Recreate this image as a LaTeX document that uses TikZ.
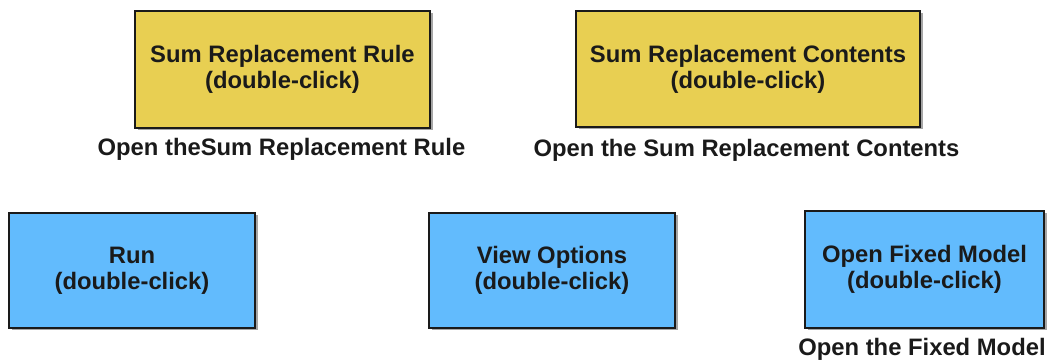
\documentclass[tikz,border=0pt]{standalone}
\usepackage{fontspec}
\setmainfont{Liberation Sans}
\usetikzlibrary{shadows}
\definecolor{boxyellow}{HTML}{E8CF52}
\definecolor{boxblue}{HTML}{62BBFD}
\definecolor{txtdark}{HTML}{1A1A1A}
\tikzset{
  blk/.style={draw=txtdark, line width=1.3pt, align=center, inner sep=0pt,
    font=\fontsize{23.8}{26}\selectfont\bfseries, text=txtdark,
    drop shadow={shadow xshift=2.5pt, shadow yshift=-2.5pt, opacity=0.35, fill=black}},
  yblk/.style={blk, fill=boxyellow},
  bblk/.style={blk, fill=boxblue},
  lbl/.style={anchor=base, inner sep=0pt, font=\fontsize{23.8}{26}\selectfont\bfseries, text=txtdark}
}
\begin{document}
\begin{tikzpicture}[x=1pt,y=1pt]
\useasboundingbox (0,0) rectangle (1050,359);
\node[yblk, minimum width=295pt, minimum height=117pt] (rule) at (282.5,289.5) {Sum Replacement Rule\\(double-click)};
\node[yblk, minimum width=344pt, minimum height=116pt] (contents) at (748,290) {Sum Replacement Contents\\(double-click)};
\node[bblk, minimum width=246pt, minimum height=115pt] (run) at (132,88.5) {Run\\(double-click)};
\node[bblk, minimum width=246pt, minimum height=115pt] (view) at (552,88.5) {View Options\\(double-click)};
\node[bblk, minimum width=239pt, minimum height=117pt] (fixed) at (924.5,89.5) {Open Fixed Model\\(double-click)};
\node[lbl] (rulelbl) at (281.5,203) {Open theSum Replacement Rule};
\node[lbl] (contentslbl) at (746.5,202.5) {Open the Sum Replacement Contents};
\node[lbl] (fixedlbl) at (922,4) {Open the Fixed Model};
\end{tikzpicture}
\end{document}
